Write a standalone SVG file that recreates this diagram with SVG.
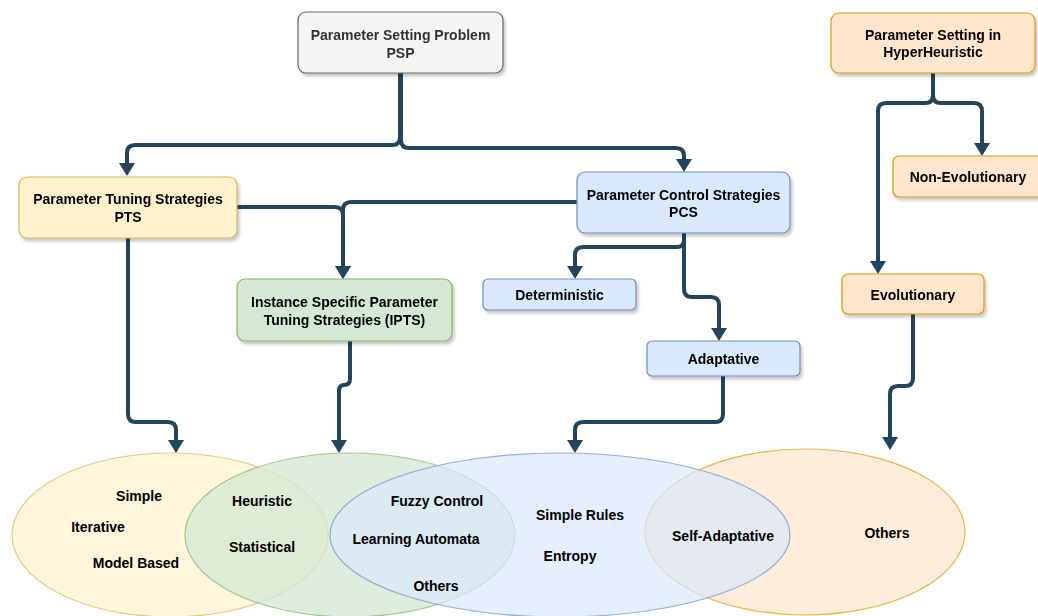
<svg xmlns="http://www.w3.org/2000/svg" width="1038" height="616" viewBox="0 0 1038 616">
<style>
text{font-family:"Liberation Sans",Arial,Helvetica,sans-serif;font-size:14px;font-weight:bold;fill:#000;text-anchor:middle;dominant-baseline:central}
.box{stroke-width:1.2}
.gray{fill:#f5f5f5;stroke:#666}
.yel{fill:#fff2cc;stroke:#d6b656}
.blu{fill:#dae8fc;stroke:#6c8ebf}
.grn{fill:#d5e8d4;stroke:#82b366}
.org{fill:#ffe6cc;stroke:#d79b00}
.ell{fill-opacity:0.7;stroke-opacity:0.7;stroke-width:1.2}
#set-ipts{fill-opacity:0.78}
.edge{fill:none;stroke:#23445d;stroke-width:4;marker-end:url(#arr)}
</style>
<defs>
<filter id="sh" x="-10%" y="-10%" width="130%" height="140%">
<feDropShadow dx="2" dy="3" stdDeviation="1.5" flood-color="#000" flood-opacity="0.22"/>
</filter>
<marker id="arr" markerUnits="userSpaceOnUse" viewBox="0 0 13 16" markerWidth="13" markerHeight="16" refX="0" refY="8" orient="auto">
<path d="M0,0 L13,8 L0,16 Z" fill="#23445d"/>
</marker>
</defs>

<g id="sets">
<ellipse id="set-pts" class="ell yel" cx="170" cy="535" rx="158" ry="82"/>
<ellipse id="set-hh" class="ell org" cx="805" cy="532" rx="160" ry="83"/>
<ellipse id="set-ipts" class="ell grn" cx="350" cy="535" rx="165" ry="82"/>
<ellipse id="set-pcs" class="ell blu" cx="560" cy="535" rx="230" ry="82"/>
<text x="139" y="496">Simple</text>
<text x="98" y="527">Iterative</text>
<text x="136" y="563">Model Based</text>
<text x="262" y="501">Heuristic</text>
<text x="262" y="547">Statistical</text>
<text x="437" y="501">Fuzzy Control</text>
<text x="416" y="539">Learning Automata</text>
<text x="436" y="586">Others</text>
<text x="580" y="515">Simple Rules</text>
<text x="570" y="556">Entropy</text>
<text x="723" y="536">Self-Adaptative</text>
<text x="887" y="533">Others</text>
</g>

<g id="connectors">
<path class="edge" d="M400,73 V137 Q400,145 392,145 H135 Q127,145 127,153 V163"/>
<path class="edge" d="M401,73 V140 Q401,148 409,148 H676 Q684,148 684,156 V159"/>
<path class="edge" d="M237,207 H335 Q343,207 343,215 V266"/>
<path class="edge" d="M577,202 H351 Q343,202 343,210 V266"/>
<path class="edge" d="M684,233 V240 Q684,247 677,247 H583 Q575,247 575,255 V266"/>
<path class="edge" d="M684,233 V289 Q684,297 692,297 H711 Q719,297 719,305 V328"/>
<path class="edge" d="M128,238 V414 Q128,422 136,422 H168 Q176,422 176,430 V440"/>
<path class="edge" d="M350,341 V379 Q350,385 344,385 Q339,385 339,391 V440"/>
<path class="edge" d="M723,376 V414 Q723,422 715,422 H583 Q575,422 575,430 V440"/>
<path class="edge" d="M933,73 V95 Q933,103 925,103 H886 Q878,103 878,111 V261"/>
<path class="edge" d="M933,73 V95 Q933,103 941,103 H974 Q982,103 982,111 V143"/>
<path class="edge" d="M913,314 V378 Q913,386 905,386 H898 Q890,386 890,394 V437"/>
</g>

<g id="psp" filter="url(#sh)">
<rect class="box gray" x="298" y="12" width="205" height="61" rx="8"/>
<text x="400.5" y="35" style="fill:#333">Parameter Setting Problem</text>
<text x="400.5" y="53" style="fill:#333">PSP</text>
</g>
<g id="pts" filter="url(#sh)">
<rect class="box yel" x="19" y="177" width="218" height="61" rx="8"/>
<text x="128" y="199">Parameter Tuning Strategies</text>
<text x="128" y="217">PTS</text>
</g>
<g id="pcs" filter="url(#sh)">
<rect class="box blu" x="577" y="172" width="213" height="61" rx="8"/>
<text x="683.5" y="195">Parameter Control Strategies</text>
<text x="683.5" y="212">PCS</text>
</g>
<g id="ipts" filter="url(#sh)">
<rect class="box grn" x="237" y="279" width="215" height="62" rx="8"/>
<text x="344.5" y="302">Instance Specific Parameter</text>
<text x="344.5" y="320">Tuning Strategies (IPTS)</text>
</g>
<g id="deterministic" filter="url(#sh)">
<rect class="box blu" x="483" y="279" width="153" height="31" rx="5"/>
<text x="559.5" y="295">Deterministic</text>
</g>
<g id="adaptative" filter="url(#sh)">
<rect class="box blu" x="647" y="341" width="153" height="35" rx="5"/>
<text x="723.5" y="359">Adaptative</text>
</g>
<g id="hyperheuristic" filter="url(#sh)">
<rect class="box org" x="831" y="13" width="204" height="60" rx="8"/>
<text x="933" y="35">Parameter Setting in</text>
<text x="933" y="52">HyperHeuristic</text>
</g>
<g id="non-evolutionary" filter="url(#sh)">
<rect class="box org" x="893" y="156" width="152" height="41" rx="6"/>
<text x="968" y="177">Non-Evolutionary</text>
</g>
<g id="evolutionary" filter="url(#sh)">
<rect class="box org" x="842" y="274" width="142" height="40" rx="6"/>
<text x="913" y="295">Evolutionary</text>
</g>
</svg>
